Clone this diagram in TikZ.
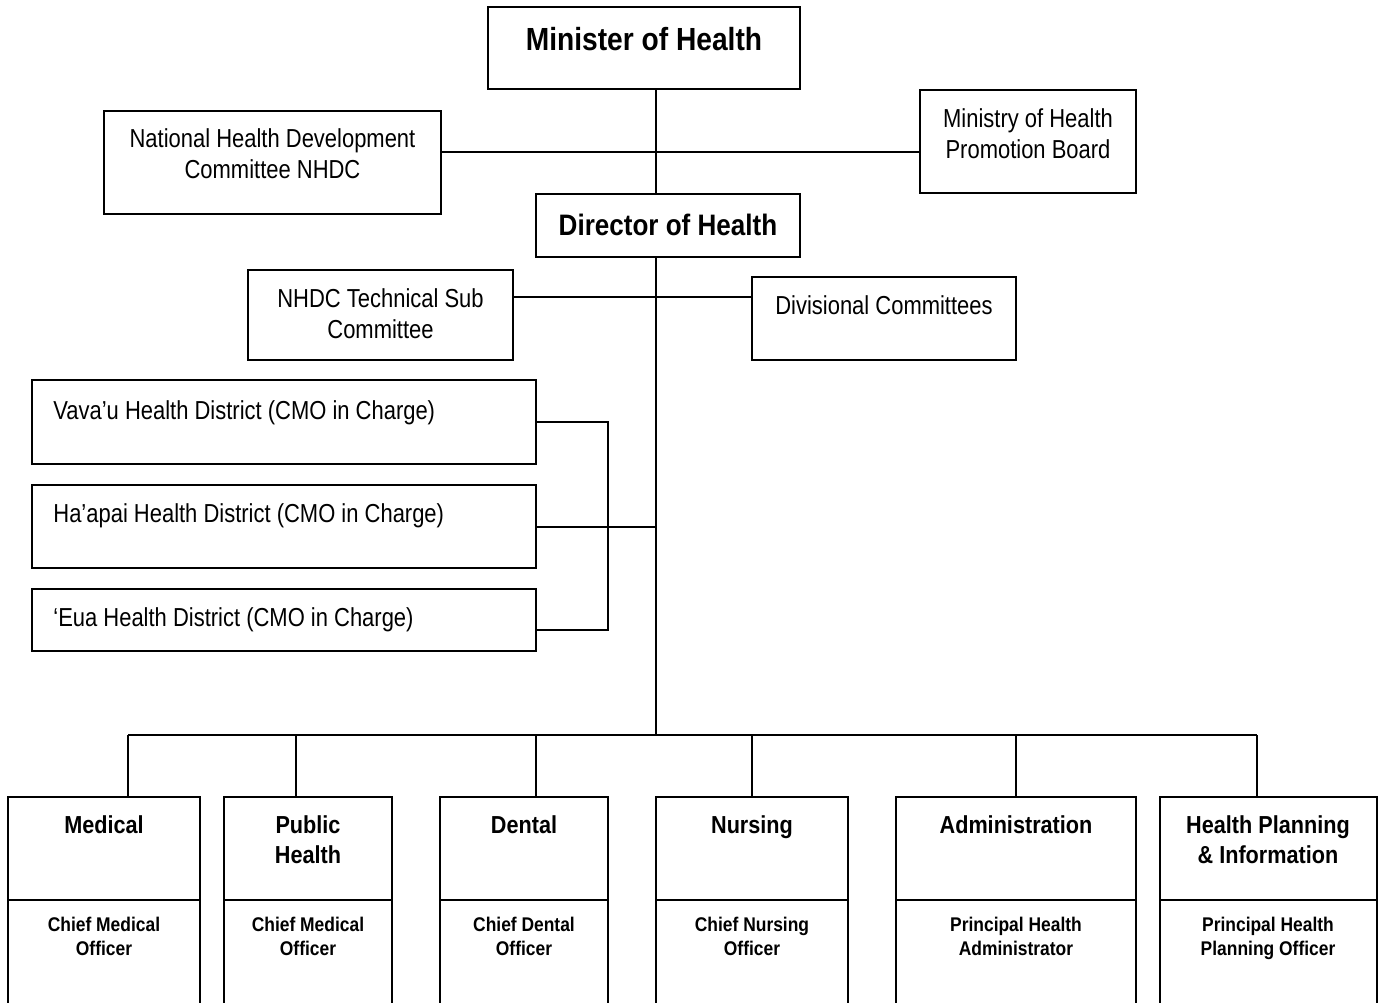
\documentclass[tikz,border=0pt]{standalone}
\usepackage{fontspec}
\setmainfont{Liberation Sans}[FakeStretch=0.88]
\newfontfamily\narrowfont{Liberation Sans}[FakeStretch=0.845]
\usetikzlibrary{fit}
\tikzset{
  box/.style={draw=black, line width=1pt, inner sep=0pt},
  link/.style={draw=black, line width=1pt},
  plain/.style={inner sep=0pt, align=center, font=\narrowfont\fontsize{13}{15.5}\selectfont},
  chief/.style={inner sep=0pt, align=center, font=\bfseries\fontsize{16}{19}\selectfont},
  unit/.style={inner sep=0pt, align=center, font=\bfseries\fontsize{12.3}{15}\selectfont},
  officer/.style={inner sep=0pt, align=center, font=\bfseries\fontsize{9.9}{12}\selectfont}
}
\begin{document}
\begin{tikzpicture}[x=0.5pt,y=-0.5pt]
\clip (0,0) rectangle (1380,1002);
\fill[white] (0,0) rectangle (1380,1002);
%Top of the chart
\node[box, fit={(488,7) (800,89)}] (min) {};
\node[chief, anchor=north] at (644,26.5) {Minister of Health};
\node[box, fit={(536,194) (800,257)}] (dir) {};
\node[chief, anchor=north, font=\bfseries\fontsize{14.8}{18}\selectfont] at (668,213.5) {Director of Health};
\node[box, fit={(104,111) (441,214)}] (nhdc) {};
\node[plain, anchor=north] at (272.5,128) {National Health Development\\Committee NHDC};
\node[box, fit={(920,90) (1136,193)}] (board) {};
\node[plain, anchor=north] at (1028,108) {Ministry of Health\\Promotion Board};
\node[box, fit={(248,270) (513,360)}] (tech) {};
\node[plain, anchor=north] at (380.5,288) {NHDC Technical Sub\\Committee};
\node[box, fit={(752,277) (1016,360)}] (divc) {};
\node[plain, anchor=north] at (884,295) {Divisional Committees};
%Health districts
\node[box, fit={(32,380) (536,464)}] (vav) {};
\node[plain, anchor=north west] at (53,400) {Vava’u Health District (CMO in Charge)};
\node[box, fit={(32,485) (536,568)}] (hap) {};
\node[plain, anchor=north west] at (53,503) {Ha’apai Health District (CMO in Charge)};
\node[box, fit={(32,589) (536,651)}] (eua) {};
\node[plain, anchor=north west] at (53,607) {‘Eua Health District (CMO in Charge)};
%Divisions
\node[box, fit={(8,797) (200,900)}] (med) {};
\node[box, fit={(8,900) (200,1012)}] (medsub) {};
\node[unit, anchor=north] at (104,815) {Medical};
\node[officer, anchor=north] at (104,917) {Chief Medical\\Officer};
\node[box, fit={(224,797) (392,900)}] (pub) {};
\node[box, fit={(224,900) (392,1012)}] (pubsub) {};
\node[unit, anchor=north] at (308,815) {Public\\Health};
\node[officer, anchor=north] at (308,917) {Chief Medical\\Officer};
\node[box, fit={(440,797) (608,900)}] (den) {};
\node[box, fit={(440,900) (608,1012)}] (densub) {};
\node[unit, anchor=north] at (524,815) {Dental};
\node[officer, anchor=north] at (524,917) {Chief Dental\\Officer};
\node[box, fit={(656,797) (848,900)}] (nur) {};
\node[box, fit={(656,900) (848,1012)}] (nursub) {};
\node[unit, anchor=north] at (752,815) {Nursing};
\node[officer, anchor=north] at (752,917) {Chief Nursing\\Officer};
\node[box, fit={(896,797) (1136,900)}] (adm) {};
\node[box, fit={(896,900) (1136,1012)}] (admsub) {};
\node[unit, anchor=north] at (1016,815) {Administration};
\node[officer, anchor=north] at (1016,917) {Principal Health\\Administrator};
\node[box, fit={(1160,797) (1377,900)}] (hpi) {};
\node[box, fit={(1160,900) (1377,1012)}] (hpisub) {};
\node[unit, anchor=north] at (1268,815) {Health Planning\\\& Information};
\node[officer, anchor=north] at (1268,917) {Principal Health\\Planning Officer};
%Connectors
\coordinate (s1) at (656,152);
\coordinate (s2) at (656,297);
\coordinate (bus) at (656,735);
\coordinate (brk) at (608,630);
\draw[link] (min.south -| s1) -- (dir.north -| s1);
\draw[link] (nhdc.east |- s1) -- (board.west |- s1);
\draw[link] (dir.south -| bus) -- (bus);
\draw[link] (tech.east |- s2) -- (divc.west |- s2);
\draw[link] (vav.east) -| (brk) -- (eua.east |- brk);
\draw[link] (hap.east) -- (hap.east -| bus);
\foreach \b/\x in {med/128, pub/296, den/536, nur/752, adm/1016, hpi/1257}
  \coordinate (c\b) at (\x,735);
\draw[link] (cmed) -- (chpi);
\foreach \b in {med, pub, den, nur, adm, hpi}
  \draw[link] (c\b) -- (c\b |- \b.north);
\end{tikzpicture}
\end{document}
